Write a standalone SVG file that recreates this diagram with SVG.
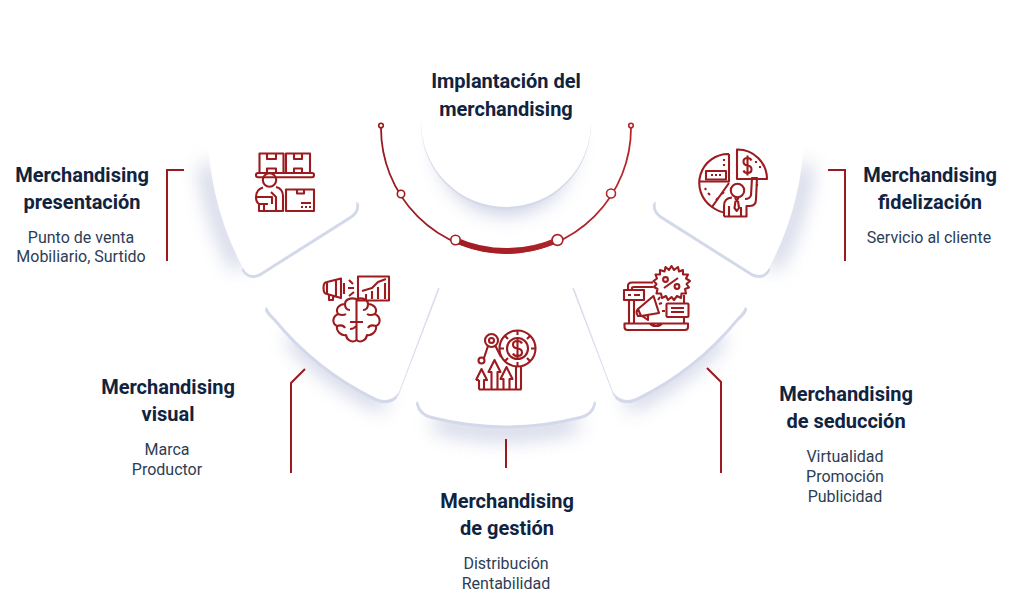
<svg xmlns="http://www.w3.org/2000/svg" width="1010" height="601" viewBox="0 0 1010 601">
<style>
text{font-family:Roboto,"Liberation Sans",sans-serif;text-anchor:middle}
.t{font-size:20px;font-weight:700;fill:#10233f}
.s{font-size:16px;font-weight:400;fill:#2c3d56}
.w{fill:#fff}
.sh{fill:none;stroke:#a9b1d0;stroke-width:14;stroke-linecap:round;filter:url(#b);opacity:.7}
.e6{fill:none;stroke:#d3d9ea;stroke-width:6;stroke-linecap:round}
.e2{fill:none;stroke:#d8dcec;stroke-width:2.4}
.c{fill:none;stroke:#9b1a20;stroke-width:2}
.i{fill:none;stroke:#9b1b1f;stroke-width:2.1;stroke-linejoin:round}
.n{fill:#fff;stroke-width:1.6}
</style>
<defs>
<filter id="b" filterUnits="userSpaceOnUse" x="0" y="0" width="1010" height="601"><feGaussianBlur stdDeviation="10"/></filter>
<linearGradient id="g" gradientUnits="userSpaceOnUse" x1="381" y1="0" x2="631" y2="0"><stop offset="0" stop-color="#981a20"/><stop offset="1" stop-color="#b5262c"/></linearGradient>
</defs>
<rect width="1010" height="601" fill="#fff"/>
<g id="shadows">
<path class="sh" d="M208,170A300,300 0 0 0 238,262"/>
<path class="sh" d="M295,340A300,300 0 0 0 380,402"/>
<path class="sh" d="M440,424A300,300 0 0 0 572,424"/>
<path class="sh" d="M632,402A300,300 0 0 0 717,340"/>
<path class="sh" d="M804,170A300,300 0 0 1 774,262"/>
<circle cx="506" cy="146" r="68" fill="#a9b1d0" opacity=".65" filter="url(#b)"/>
</g>
<g id="node-presentacion">
<path class="e6" d="M245,270Q250,278 260,273L350,216Q357,211 356,205"/>
<path class="w" d="M208,135A300,300 0 0 0 243,268Q249,279 260,273L350,216Q358,211 356,202L356,135Z"/>
<g class="i">
<path d="M259.500,172.500V153.500H283.500V172.500M267,153.500V159H276V153.500M267,172.500V168.500H276V172.500M286,172.500V153.500H310V172.500M294,153.500V159H302V153.500M294,172.500V168.500H302V172.500"/>
<rect x="256" y="173" width="58" height="4.300" rx="2"/>
<circle cx="269.500" cy="180" r="6.700"/>
<path d="M263,187.500C258,189 256,193 256,197C256,202 259,204 259,204V211H283V196C283,191 280,188 276,187M259,204H268M264,204V211M257,197H272V204M271,192L276,197V211"/>
<path d="M286,189.500H314V211H286ZM297,189.500V193.500H304V189.500M301,203H311"/>
<path d="M301,207H303M305,207H307M309,207H311"/>
</g>
<text class="t" x="82" y="182">Merchandising</text>
<text class="t" x="82" y="209">presentación</text>
<text class="s" x="81" y="243">Punto de venta</text>
<text class="s" x="81" y="262">Mobiliario, Surtido</text>
</g>
<g id="node-visual">
<path class="e6" d="M268,310Q270,314 276,319A300,300 0 0 0 376,398Q387,403 394,397"/>
<path class="e2" d="M397,396L438.500,288"/>
<path class="w" d="M265,300Q266,310 275,318A300,300 0 0 0 376,398Q390,404 399,392L438,288L395,250L370,232Z"/>
<g class="i">
<path d="M327,282L341,278.500V298L327,294M327,282Q323.500,282 323.500,288Q323.500,294 327,294ZM329,294V300H333V295M336,279.500V297.500M344,283V294M349,280L353,284M348,288H354M349,296L354,292"/>
<rect x="358" y="276.500" width="31" height="24"/>
<path d="M362,291L372,288L378,282L386,279M366,299V294M372,299V291M378,299V287M385,299V283"/>
<path d="M356.500,299V341M356.500,299C350,297 345,300 345,304C339,304 335,309 338,314C332,317 332,324 337,326C336,332 342,336 346,335C347,341 353,343 356.500,340"/>
<path d="M356.500,299C363,297 368,300 368,304C374,304 378,309 375,314C381,317 381,324 376,326C377,332 371,336 367,335C366,341 360,343 356.500,340"/>
<path d="M345,304Q345,310 350,310M338,314Q343,316 346,314M337,326Q343,324 345,328M350,322H356M363,322H357M368,304Q368,310 363,310M375,314Q370,316 367,314M376,326Q370,324 368,328M350,329Q354,329 356,326"/>
</g>
<text class="t" x="168" y="394">Merchandising</text>
<text class="t" x="168" y="421">visual</text>
<text class="s" x="167" y="455">Marca</text>
<text class="s" x="167" y="475">Productor</text>
</g>
<g id="node-gestion">
<path class="e6" d="M419,404Q421,413 432,416A300,300 0 0 0 580,416Q591,413 593,404"/>
<path class="w" d="M417,395Q418,413 432,416A300,300 0 0 0 580,416Q594,413 595,395L566,300L446,300Z"/>
<g class="i">
<circle cx="517.500" cy="348.500" r="18"/>
<circle cx="517.500" cy="348.500" r="10.500"/>
<path d="M517.500,330.500V335M517.500,362V366.500M499.500,348.500H504M531,348.500H535.500M504.800,335.800L508,339M527,358L530.200,361.200M530.200,335.800L527,339M508,358L504.800,361.200"/>
<path d="M522,343.500Q521,341 517.500,341Q513,341 513,344.500Q513,348 517.500,348.500Q522,349 522,352.500Q522,356 517.500,356Q514,356 513,353.500M517.500,339V358"/>
<circle cx="491.500" cy="340.500" r="6.500"/>
<circle cx="491.500" cy="340.500" r="2.500"/>
<circle cx="481.500" cy="360.500" r="3"/>
<path d="M484,358L488,346M495.500,346L501,357"/>
<path d="M479,389.500H521.500M479,389.500V380M476,380L481.500,369L487,380H484V389.500M479,380H476"/>
<path d="M491.500,389.500V372H488.500L494.500,360L500.500,372H497.500V389.500"/>
<path d="M503.500,389.500V379H500.500L506.500,367L512.500,379H509.500V389.500"/>
<path d="M516,389.500V366M521,389.500V366"/>
</g>
<text class="t" x="507" y="508">Merchandising</text>
<text class="t" x="507" y="535">de gestión</text>
<text class="s" x="506" y="569">Distribución</text>
<text class="s" x="506" y="589">Rentabilidad</text>
</g>
<g id="node-seduccion">
<path class="e6" d="M744,310Q742,314 736,319A300,300 0 0 1 636,398Q625,403 618,397"/>
<path class="e2" d="M615,396L573.500,288"/>
<path class="w" d="M747,300Q746,310 737,318A300,300 0 0 1 636,398Q622,404 613,392L574,288L617,250L642,232Z"/>
<g class="i">
<path d="M671.500,266L674,270L678,267L679,271.500L683,270L683,274.500L688,274.500L686,278.500L690,281L686.500,284L689,287.500L685,289L686,293.500L681.500,293.500L681,298L677,296L674,300L671.500,297L668,300L666,296L662,298L661,293.500L656.500,293.500L657.500,289L654,287L656.500,284L653.500,281L657,278.500L655.500,274.500L660,274.500L660,270L664.500,271.500L665.500,267L669,270Z"/>
<path d="M664,288L678,278"/>
<circle cx="665.500" cy="279.500" r="2.400"/>
<circle cx="677" cy="286.500" r="2.400"/>
<path d="M624.500,323.500H688V327Q688,330 685,330H627.500Q624.500,330 624.500,327ZM650,323.500Q652,326 656,326Q660,326 662,323.500"/>
<path d="M629,323V300M634,323V300M628,290V286Q628,282.500 632,282.500H653M632,290V288Q632,287 634,287H653M684,323V317M684,303V295"/>
<rect x="624" y="290" width="20" height="10"/>
<path d="M628,295H631M634,295H640"/>
<rect x="666.500" y="303.500" width="22" height="13.500" rx="1"/>
<path d="M671,308H684M671,312H684"/>
<path d="M638,309L653.500,296L659,313L641,316ZM638,309Q635,312 638,316L641,316M642,316L648,320L648,315M660,297L658,300M659,304L662,303M662,311H665"/>
</g>
<text class="t" x="846" y="401">Merchandising</text>
<text class="t" x="846" y="428">de seducción</text>
<text class="s" x="845" y="462">Virtualidad</text>
<text class="s" x="845" y="482">Promoción</text>
<text class="s" x="845" y="502">Publicidad</text>
</g>
<g id="node-fidelizacion">
<path class="e6" d="M767,270Q762,278 752,273L662,216Q655,211 656,205"/>
<path class="w" d="M804,135A300,300 0 0 1 769,268Q763,279 752,273L662,216Q654,211 656,202L656,135Z"/>
<g class="i">
<path d="M729,154V181.500H700M729,154A29,29 0 0 0 712,207L729,183M712,207Q720,212.500 725,212.500"/>
<rect x="706" y="171" width="20" height="8.500"/>
<path d="M711,175H713M715,175H717M719,175H721M724,159V161M724,164V166M705,188L706,190M708,193L710,195M716,200L718,198M722,194L724,192"/>
<path d="M737,149.500V179H767A29.500,29.500 0 0 0 737,149.500Z"/>
<path d="M751.500,160.500Q750.500,158 747.500,158Q743.500,158 743.500,161.500Q743.500,165 747.500,165.500Q751.500,166 751.500,169.500Q751.500,173 747.500,173Q744.500,173 743.500,170.500M747.500,155.500V175.500"/>
<path d="M757,184V186M760,166V168M756,161V163"/>
<circle cx="737.500" cy="190.500" r="6.700"/>
<path d="M724,216.500V206Q724,198 732,197.500M724,216.500H746.500V206H750Q756,206 756,199L757,178H752L751,195Q750,199 745,199M729,216.500V206M741,216.500V207M735,197.500L736.800,201L738.500,197.500M735.500,201L734.500,208L736.800,211L739,208L738,201"/>
</g>
<text class="t" x="930" y="182">Merchandising</text>
<text class="t" x="930" y="209">fidelización</text>
<text class="s" x="929" y="243">Servicio al cliente</text>
</g>
<g id="node-implantacion">
<circle cx="506" cy="124" r="85" fill="#d3d9ea"/>
<circle class="w" cx="506" cy="122" r="85"/>
<rect class="w" x="415" y="60" width="182" height="62"/>
<text class="t" x="506" y="88">Implantación del</text>
<text class="t" x="506" y="116">merchandising</text>
</g>
<g id="connectors">
<path class="c" d="M184,170H167V261"/>
<path class="c" d="M305,369L291,383V473"/>
<path class="c" d="M506,439V468"/>
<path class="c" d="M707,368L721,382V473"/>
<path class="c" d="M828,170H845V261"/>
</g>
<g id="timeline" stroke="url(#g)">
<path fill="none" stroke-width="1.800" d="M381,128A125,125 0 0 0 631,128"/>
<path fill="none" stroke-width="5.600" d="M455.500,240A125,125 0 0 0 557.500,240"/>
<circle class="n" cx="381" cy="125.500" r="2.300"/>
<circle class="n" cx="401" cy="194" r="3.700"/>
<circle class="n" cx="455.500" cy="240" r="4.700"/>
<circle class="n" cx="557.500" cy="240" r="5.400"/>
<circle class="n" cx="611" cy="193.500" r="4.500"/>
<circle class="n" cx="631" cy="125.500" r="2.300"/>
</g>
</svg>
